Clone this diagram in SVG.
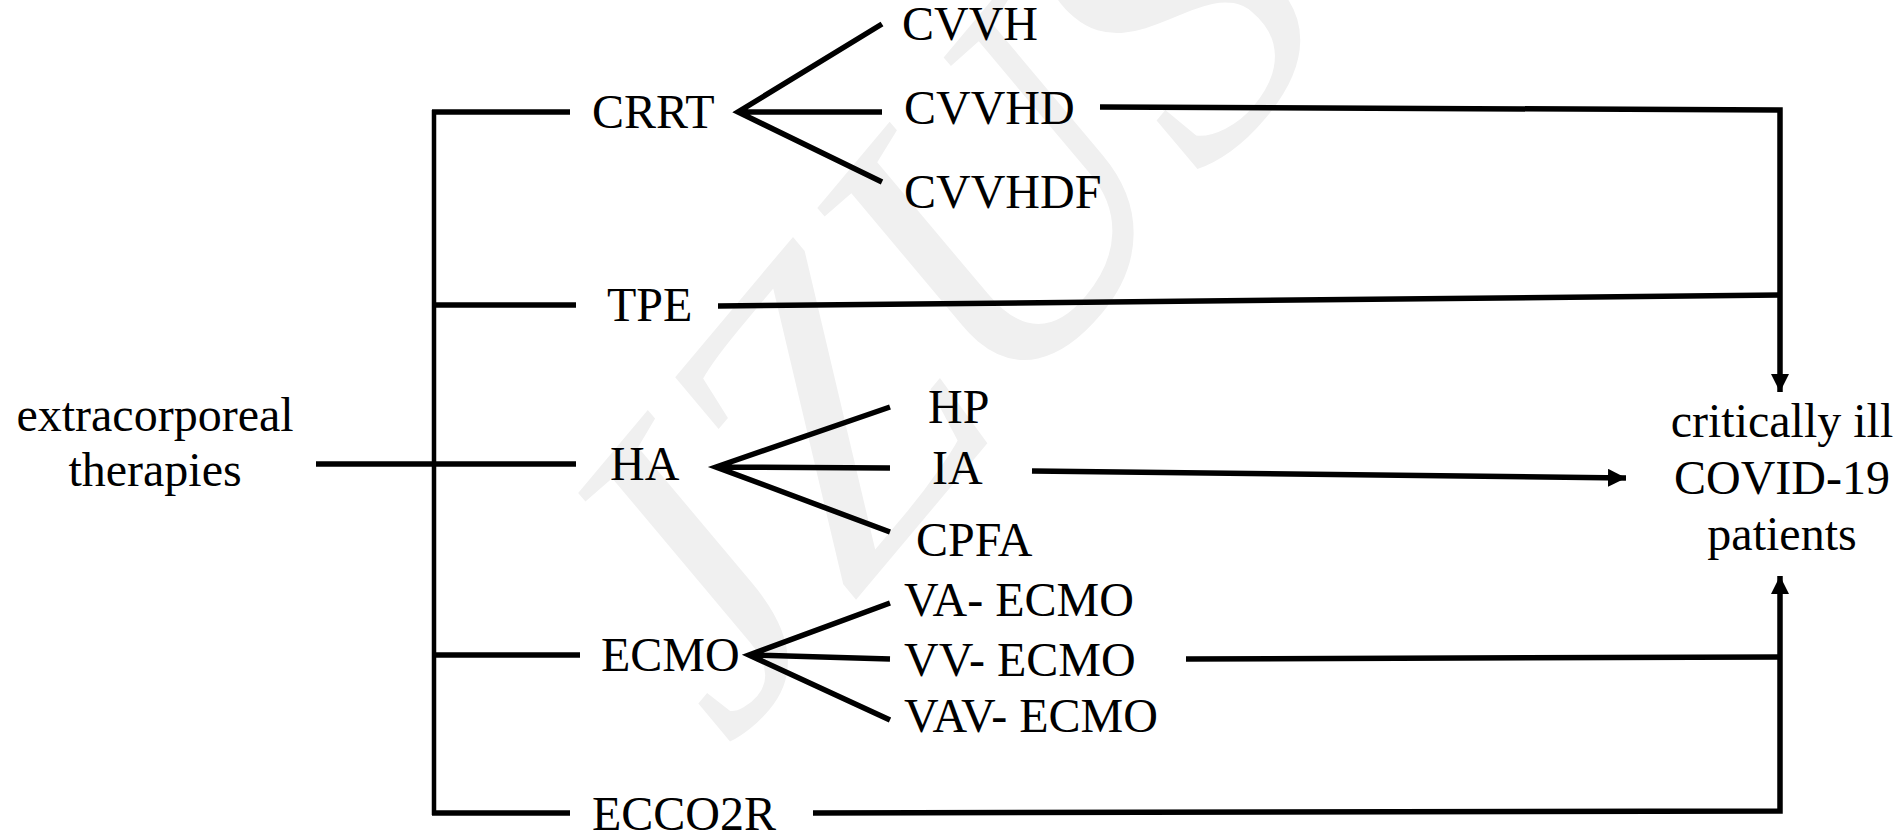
<svg xmlns="http://www.w3.org/2000/svg" width="1903" height="834" viewBox="0 0 1903 834">
<defs>
<style>
text{font-family:"Liberation Serif","Times New Roman",serif;font-size:48px;fill:#000}
.c{text-anchor:middle}
.ln{stroke:#000;stroke-width:5.5;fill:none;stroke-linecap:butt}
.tr{stroke:#000;stroke-width:4.5;fill:none}
.wm{font-family:"Liberation Serif",serif;font-style:italic;font-size:430px;fill:#f0f0f0}
</style>
<marker id="ah" viewBox="0 0 10 10" refX="10" refY="5" markerWidth="18" markerHeight="18" markerUnits="userSpaceOnUse" orient="auto">
<path d="M0,0 L10,5 L0,10 z" fill="#000"/>
</marker>
</defs>
<rect width="1903" height="834" fill="#fff"/>
<text class="wm" transform="translate(730,750) rotate(-50)">JZUS-B</text>
<g id="connectors">
<line class="ln" x1="316" y1="464" x2="576" y2="464"/>
<line class="tr" x1="434" y1="110" x2="434" y2="815"/>
<line class="ln" x1="432" y1="112" x2="570" y2="112"/>
<line class="ln" x1="432" y1="305" x2="576" y2="305"/>
<line class="ln" x1="432" y1="655" x2="580" y2="655"/>
<line class="ln" x1="432" y1="813" x2="570" y2="813"/>
<path class="ln" d="M882,24 L738,112 L882,182 M738,112 L882,112"/>
<path class="ln" d="M890,407 L716,467 L890,532 M716,467 L890,468"/>
<path class="ln" d="M890,603 L749,655 L890,720 M749,655 L890,659"/>
<path class="ln" d="M1100,107 L1780,110 L1780,392" marker-end="url(#ah)"/>
<line class="ln" x1="718" y1="306" x2="1780" y2="295"/>
<line class="ln" x1="1032" y1="471" x2="1626" y2="478" marker-end="url(#ah)"/>
<path class="ln" d="M813,813 L1780,811 L1780,576" marker-end="url(#ah)"/>
<line class="ln" x1="1186" y1="659" x2="1780" y2="657"/>
</g>
<g id="n-root"><text class="c" x="155" y="431">extracorporeal</text><text class="c" x="155" y="486">therapies</text></g>
<g id="n-crrt"><text x="592" y="128">CRRT</text></g>
<g id="n-cvvh"><text x="902" y="40">CVVH</text></g>
<g id="n-cvvhd"><text x="904" y="124">CVVHD</text></g>
<g id="n-cvvhdf"><text x="904" y="208">CVVHDF</text></g>
<g id="n-tpe"><text x="607" y="321">TPE</text></g>
<g id="n-ha"><text x="610" y="480">HA</text></g>
<g id="n-hp"><text x="928" y="423">HP</text></g>
<g id="n-ia"><text x="932" y="484">IA</text></g>
<g id="n-cpfa"><text x="916" y="556">CPFA</text></g>
<g id="n-ecmo"><text x="601" y="671">ECMO</text></g>
<g id="n-va"><text x="904" y="616">VA- ECMO</text></g>
<g id="n-vv"><text x="904" y="676">VV- ECMO</text></g>
<g id="n-vav"><text x="904" y="732">VAV- ECMO</text></g>
<g id="n-ecco2r"><text x="592" y="830">ECCO2R</text></g>
<g id="n-target"><text class="c" x="1782" y="437">critically ill</text><text class="c" x="1782" y="494">COVID-19</text><text class="c" x="1782" y="550">patients</text></g>
</svg>
